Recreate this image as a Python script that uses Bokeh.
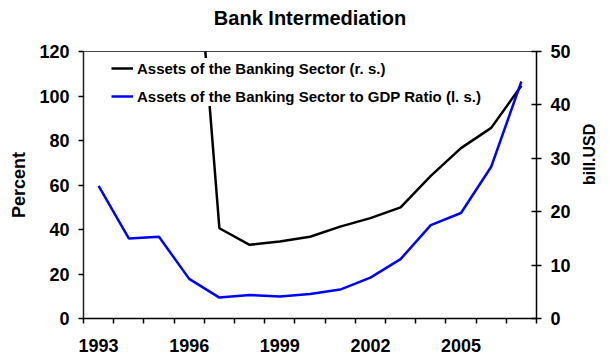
import math
from bokeh.plotting import figure
from bokeh.models import (Range1d, LinearAxis, FixedTicker, Legend, LegendItem)
from bokeh.embed import file_html
from bokeh.resources import INLINE

# ---- data ----
years = [1993, 1994, 1995, 1996, 1997, 1998, 1999, 2000, 2001, 2002, 2003, 2004, 2005, 2006, 2007]
ratio_to_gdp = [59.6, 36.0, 36.7, 17.8, 9.4, 10.6, 9.9, 11.0, 13.0, 18.4, 26.7, 42.0, 47.4, 68.2, 106.5]
asset_years = [1996, 1997, 1998, 1999, 2000, 2001, 2002, 2003, 2004, 2005, 2006, 2007]
assets_bill_usd = [88.0, 16.9, 13.8, 14.4, 15.3, 17.2, 18.8, 20.8, 26.7, 31.9, 35.7, 43.6]
x_tick_labels = [1993, 1996, 1999, 2002, 2005]
left_ticks = [0, 20, 40, 60, 80, 100, 120]
right_ticks = [0, 10, 20, 30, 40, 50]
title_text = "Bank Intermediation"
left_label = "Percent"
right_label = "bill.USD"

FONT = "Liberation Sans"

p = figure(width=609, height=358, output_backend="svg", toolbar_location=None,
           x_range=Range1d(years[0] - 0.5, years[-1] + 0.5),
           y_range=Range1d(0, 120),
           min_border_left=83, min_border_right=68, min_border_top=51, min_border_bottom=40)
p.extra_y_ranges = {"right": Range1d(0, 50)}
p.grid.visible = False
p.background_fill_color = "white"
p.border_fill_color = "white"
p.outline_line_color = "#444444"
p.outline_line_width = 1
p.title.visible = False

xa = p.below[0]
ya = p.left[0]

# chart title: drawn as the label of a bare axis above the frame (no ticks, no line)
top = LinearAxis(ticker=FixedTicker(ticks=[]))
top.major_tick_out = 0
top.major_tick_in = 0
top.minor_tick_out = 0
top.minor_tick_in = 0
top.major_label_standoff = 0
top.axis_line_color = None
top.major_tick_line_color = None
top.minor_tick_line_color = None
top.axis_label = title_text
top.axis_label_text_font = FONT
top.axis_label_text_font_size = "20px"
top.axis_label_text_font_style = "bold"
top.axis_label_text_color = "black"
top.axis_label_standoff = 23
p.add_layout(top, "above")


def style_labels(ax):
    ax.major_label_text_font = FONT
    ax.major_label_text_font_size = "18px"
    ax.major_label_text_font_style = "bold"
    ax.major_label_text_color = "black"
    ax.axis_label_text_font = FONT
    ax.axis_label_text_font_size = "18px"
    ax.axis_label_text_font_style = "bold"
    ax.axis_label_text_color = "black"
    ax.major_tick_line_color = "black"
    ax.major_tick_line_width = 1.5


# x axis
xa.ticker = FixedTicker(ticks=x_tick_labels, minor_ticks=[y - 0.5 for y in years] + [years[-1] + 0.5])
xa.major_tick_out = 0
xa.major_tick_in = 0
xa.minor_tick_out = 5
xa.minor_tick_in = 0
xa.minor_tick_line_color = "black"
xa.minor_tick_line_width = 1.5
xa.axis_line_color = "black"
xa.axis_line_width = 1.5
style_labels(xa)
xa.major_label_standoff = 15

# left axis
ya.ticker = FixedTicker(ticks=left_ticks)
ya.minor_tick_out = 0
ya.minor_tick_in = 0
ya.major_tick_out = 5
ya.major_tick_in = 0
ya.axis_line_color = "#222222"
ya.axis_line_width = 1.5
style_labels(ya)
ya.major_label_standoff = 9
ya.axis_label = left_label
ya.axis_label_standoff = 7

# right axis
ra = LinearAxis(y_range_name="right", ticker=FixedTicker(ticks=right_ticks))
ra.minor_tick_out = 0
ra.minor_tick_in = 0
ra.major_tick_out = 5
ra.major_tick_in = 5
ra.axis_line_color = "black"
ra.axis_line_width = 1.5
style_labels(ra)
ra.major_label_standoff = 9
ra.axis_label = right_label
ra.axis_label_text_font_size = "16px"
ra.axis_label_standoff = 16
ra.axis_label_orientation = math.pi / 2
p.add_layout(ra, "right")

# lines
r_assets = p.line(asset_years, assets_bill_usd, y_range_name="right",
                  line_color="black", line_width=2.5)
r_ratio = p.line(years, ratio_to_gdp, line_color="#0000FF", line_width=2.5)

legend = Legend(items=[
    LegendItem(label="Assets of the Banking Sector (r. s.)", renderers=[r_assets]),
    LegendItem(label="Assets of the Banking Sector to GDP Ratio (l. s.)", renderers=[r_ratio]),
], location=(28, 212))
legend.padding = 4
legend.margin = 0
legend.spacing = 8
legend.label_height = 20
legend.glyph_height = 20
legend.glyph_width = 22
legend.label_standoff = 4
legend.label_text_font = FONT
legend.label_text_font_size = "15px"
legend.label_text_font_style = "bold"
legend.label_text_color = "black"
legend.border_line_color = None
legend.background_fill_color = "white"
legend.background_fill_alpha = 1.0
p.add_layout(legend, "center")

open("out.html", "w").write(file_html(p, INLINE))
